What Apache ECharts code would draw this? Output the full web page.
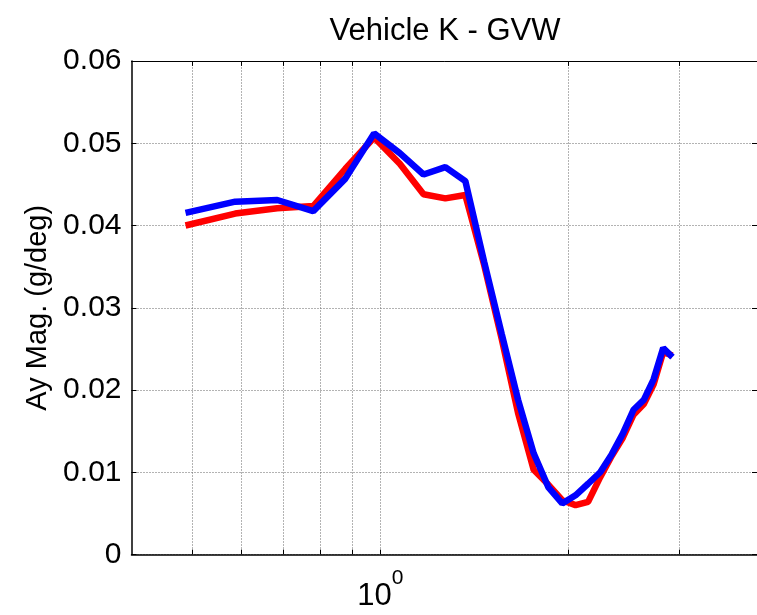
<!DOCTYPE html>
<html>
<head>
<meta charset="utf-8">
<script src="https://cdn.jsdelivr.net/npm/echarts@6/dist/echarts.min.js"></script>
<style>
html,body{margin:0;padding:0;background:#fff;}
#chart{width:757px;height:615px;}
</style>
</head>
<body>
<div id="chart"></div>
<script>
// Frequency (Hz) of each sample
const freq = [0.488, 0.586, 0.684, 0.781, 0.879, 0.977, 1.074, 1.172, 1.270, 1.367,
              1.465, 1.563, 1.660, 1.758, 1.855, 1.953, 2.051, 2.148, 2.246, 2.344,
              2.441, 2.539, 2.637, 2.734, 2.832, 2.930];
// Red trace (Ay Mag, g/deg)
const redVals = [0.0400, 0.04145, 0.0421, 0.04236, 0.0469, 0.0507, 0.0475, 0.0438, 0.0433, 0.0437,
                 0.0352, 0.0262, 0.0172, 0.0103, 0.0085, 0.0066, 0.0060, 0.0064, 0.0094, 0.0120,
                 0.0142, 0.0170, 0.0183, 0.0207, 0.0246, 0.0242];
// Blue trace (Ay Mag, g/deg)
const blueVals = [0.04154, 0.0429, 0.0431, 0.04175, 0.0457, 0.0512, 0.0488, 0.0462, 0.0471, 0.0454,
                  0.0356, 0.0268, 0.0188, 0.0123, 0.0082, 0.0062, 0.0072, 0.0086, 0.0100, 0.0122,
                  0.0147, 0.0176, 0.0188, 0.0213, 0.0251, 0.0240];
// Axis ranges / ticks
const xRange = [0.4, 4];
const xGridTicks = [0.5, 0.6, 0.7, 0.8, 0.9, 1, 2, 3];
const yRange = [0, 0.06];
const yStep = 0.01;

const FONT = "'Liberation Sans', Arial, Helvetica, sans-serif";
const chart = echarts.init(document.getElementById('chart'), null, {renderer: 'canvas'});

const tickLen = 0.0006;
const markData = [];
xGridTicks.forEach(v => { markData.push({xAxis: v, lineStyle: {type: [1, 2], color: '#666', width: 1}}); });
xGridTicks.forEach(v => {
  markData.push([{coord: [v, yRange[0]], lineStyle: {type: 'solid', color: '#000', width: 1}}, {coord: [v, yRange[0] + tickLen]}]);
  markData.push([{coord: [v, yRange[1]], lineStyle: {type: 'solid', color: '#000', width: 1}}, {coord: [v, yRange[1] - tickLen]}]);
});

const option = {
  backgroundColor: '#fff',
  animation: false,
  title: {
    text: 'Vehicle K - GVW',
    left: 440, top: 11, textAlign: 'center',
    textStyle: {fontFamily: FONT, fontSize: 31, fontWeight: 'normal', color: '#000'}
  },
  grid: {left: 131.5, top: 61, width: 628, height: 493.5, containLabel: false},
  xAxis: [{
    type: 'log', logBase: 10, min: xRange[0], max: xRange[1], position: 'bottom',
    axisLine: {show: true, onZero: false, lineStyle: {color: '#000', width: 1.5}},
    axisTick: {show: false},
    splitLine: {show: false},
    axisLabel: {
      show: true, margin: 13, showMinLabel: false, showMaxLabel: false,
      formatter: v => (Math.abs(v - 1) < 1e-9 ? '{a|10}{b|0}' : ''),
      rich: {
        a: {fontFamily: FONT, fontSize: 31, color: '#000', lineHeight: 44, verticalAlign: 'bottom'},
        b: {fontFamily: FONT, fontSize: 21, color: '#000', lineHeight: 44, verticalAlign: 'top'}
      }
    }
  }, {
    type: 'log', logBase: 10, min: xRange[0], max: xRange[1], position: 'top',
    axisLine: {show: true, onZero: false, lineStyle: {color: '#000', width: 1}},
    axisTick: {show: false}, axisLabel: {show: false}, splitLine: {show: false}
  }],
  yAxis: [{
    type: 'value', min: yRange[0], max: yRange[1], interval: yStep, position: 'left',
    name: 'Ay Mag. (g/deg)', nameLocation: 'middle', nameGap: 78,
    nameTextStyle: {fontFamily: FONT, fontSize: 29, color: '#000'},
    axisLine: {show: true, onZero: false, lineStyle: {color: '#000', width: 1.5}},
    axisTick: {show: true, inside: true, length: 5, lineStyle: {color: '#000'}},
    splitLine: {show: true, lineStyle: {type: [1, 2], color: '#666', width: 1}},
    axisLabel: {
      margin: 10, fontFamily: FONT, fontSize: 30, color: '#000',
      formatter: v => (v === 0 ? '0' : v.toFixed(2))
    }
  }, {
    type: 'value', min: yRange[0], max: yRange[1], interval: yStep, position: 'right',
    axisLine: {show: true, onZero: false, lineStyle: {color: '#000', width: 1}},
    axisTick: {show: true, inside: true, length: 5, lineStyle: {color: '#000'}},
    splitLine: {show: false}, axisLabel: {show: false}
  }],
  series: [{
    name: 'red', type: 'line', xAxisIndex: 0, yAxisIndex: 0,
    data: freq.map((f, i) => [f, redVals[i]]),
    symbol: 'none', lineStyle: {color: '#ff0000', width: 6.5}, itemStyle: {color: '#ff0000'},
    z: 3,
    markLine: {silent: true, symbol: 'none', label: {show: false}, z: 1, animation: false, data: markData}
  }, {
    name: 'blue', type: 'line', xAxisIndex: 0, yAxisIndex: 0,
    data: freq.map((f, i) => [f, blueVals[i]]),
    symbol: 'none', lineStyle: {color: '#0000ff', width: 6.5}, itemStyle: {color: '#0000ff'},
    z: 4
  }]
};
chart.setOption(option);
</script>
</body>
</html>
